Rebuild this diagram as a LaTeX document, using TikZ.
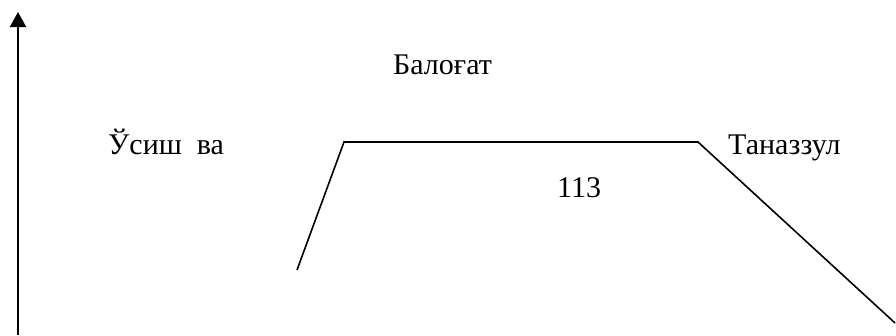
\documentclass[tikz,border=0pt]{standalone}
\usepackage{fontspec}
\setmainfont{Liberation Serif}
\usetikzlibrary{arrows.meta}
\begin{document}
\begin{tikzpicture}[x=1pt,y=-1pt,
  lbl/.style={anchor=base west,inner sep=0pt,font=\fontsize{30}{36}\selectfont},
  curve/.style={line width=1.6pt,line join=miter},
  axis/.style={line width=2pt,-{Triangle[length=15pt,width=16pt]}}]
\useasboundingbox (0,0) rectangle (896,335);
\coordinate (a0) at (18,335);
\coordinate (a1) at (18,12);
\draw[axis] (a0) -- (a1);
\coordinate (p0) at (297,270);
\coordinate (p1) at (344,142);
\coordinate (p2) at (698,142);
\coordinate (p3) at (895,323);
\draw[curve] (p0) -- (p1) -- (p2) -- (p3);
\node[lbl] (t1) at (393,74) {Балоғат};
\node[lbl] (t2) at (108,154) {Ўсиш\ \ ва};
\node[lbl] (t3) at (728,154) {Таназзул};
\node[lbl] (t4) at (557,197) {113};
\end{tikzpicture}
\end{document}
